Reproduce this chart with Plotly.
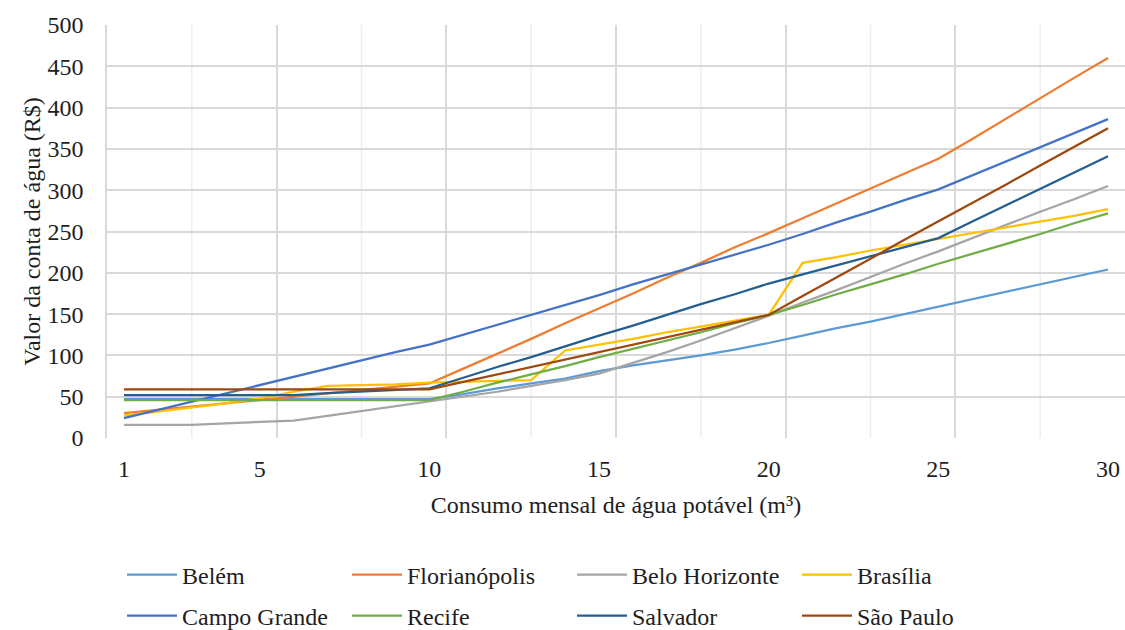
import plotly.graph_objects as go

# Monthly consumption (m³) and the water bill (R$) per city
consumo = list(range(1, 31))

belem = [47, 47, 47, 47, 47, 47, 47, 47, 47, 47,
         53, 60, 66, 72, 81, 88, 94, 100, 107, 115,
         124, 133, 141, 150, 159, 168, 177, 186, 195, 204]
florianopolis = [30, 34, 38, 42, 46, 50, 54, 58, 62, 66,
                 84, 102, 120, 139, 157, 175, 194, 212, 231, 248,
                 266, 284, 302, 320, 338, 362, 387, 411, 436, 460]
belo_horizonte = [16, 16, 16, 17.7, 19.4, 21, 26.8, 32.5, 38.3, 44,
                  50, 56, 63, 70, 78, 91, 104, 118, 133, 148,
                  164, 179, 195, 211, 226, 242, 258, 274, 289, 305]
brasilia = [27, 32, 37, 42, 48, 56, 63, 64, 65, 67,
            68, 69, 70, 106, 113, 120, 128, 135, 142, 149,
            212, 219, 227, 234, 241, 248, 255, 262, 269, 277]
campo_grande = [24, 34, 44, 54, 64, 74, 84, 94, 104, 113,
                125, 137, 149, 161, 173, 186, 198, 210, 222, 234,
                247, 261, 274, 288, 301, 318, 335, 352, 369, 386]
recife = [46, 46, 46, 46, 46, 46, 46, 46, 46, 46,
          56, 67, 77, 87, 98, 108, 118, 128, 139, 149,
          161, 174, 186, 198, 211, 223, 235, 247, 260, 272]
salvador = [52, 52, 52, 52, 52, 52, 54.2, 56.4, 58.6, 60,
            73, 86, 98, 111, 124, 136, 149, 162, 174, 187,
            198, 209, 220, 231, 242, 262, 282, 302, 321, 341]
sao_paulo = [59, 59, 59, 59, 59, 59, 59, 59, 59, 59,
             68, 77, 86, 95, 104, 113, 122, 131, 140, 149,
             172, 194, 217, 240, 262, 285, 307, 330, 353, 375]

series = [
    ("Belém", belem, "#5B9BD5", "legend"),
    ("Florianópolis", florianopolis, "#ED7D31", "legend"),
    ("Belo Horizonte", belo_horizonte, "#A5A5A5", "legend"),
    ("Brasília", brasilia, "#FFC000", "legend"),
    ("Campo Grande", campo_grande, "#4472C4", "legend2"),
    ("Recife", recife, "#70AD47", "legend2"),
    ("Salvador", salvador, "#255E91", "legend2"),
    ("São Paulo", sao_paulo, "#9E480E", "legend2"),
]

x_ticks = [1, 5, 10, 15, 20, 25, 30]
y_ticks = list(range(0, 501, 50))
# vertical grid: a darker line every 5 categories, a lighter one halfway
x_grid_major = [0.5, 5.5, 10.5, 15.5, 20.5, 25.5, 30.5]
x_grid_minor = [3, 8, 13, 18, 23, 28]

FONT = "Liberation Serif"
FS = 24
TXT = "#1e1e1e"
GRID = "#d9d9d9"
GRID_LIGHT = "#eeeeee"

fig = go.Figure()
for name, vals, color, leg in series:
    fig.add_trace(go.Scatter(
        x=consumo, y=vals, name=name, mode="lines",
        line=dict(color=color, width=2.25),
        legend=leg,
    ))

# lighter in-between vertical grid lines
for gx in x_grid_minor:
    fig.add_shape(type="line", layer="below",
                  xref="x", yref="paper", x0=gx, x1=gx, y0=0, y1=1,
                  line=dict(color=GRID_LIGHT, width=1.5))

legend_common = dict(
    orientation="h",
    xref="container", yref="container",
    xanchor="left", yanchor="middle",
    entrywidth=160, entrywidthmode="pixels",
    itemwidth=50,
    font=dict(family=FONT, size=FS, color=TXT),
    bgcolor="rgba(0,0,0,0)",
    itemclick=False, itemdoubleclick=False,
)

fig.update_layout(
    width=1125, height=630,
    margin=dict(l=107, r=0, t=25, b=192),
    paper_bgcolor="white", plot_bgcolor="white",
    font=dict(family=FONT, size=FS, color=TXT),
    showlegend=True,
    legend=dict(x=122 / 1125, y=1 - 575 / 630, **legend_common),
    legend2=dict(x=122 / 1125, y=1 - 616 / 630, **legend_common),
    xaxis=dict(
        range=[0.5, 30.5],
        tickmode="array", tickvals=x_ticks, ticktext=[str(v) for v in x_ticks],
        showgrid=False, zeroline=False, showline=False,
        ticks="", ticklabelstandoff=14,
        tickfont=dict(family=FONT, size=FS, color=TXT),
        title=dict(text="Consumo mensal de água potável (m³)", standoff=15,
                   font=dict(family=FONT, size=FS, color=TXT)),
        minor=dict(tickmode="array", tickvals=x_grid_major, showgrid=True,
                   gridcolor=GRID, gridwidth=1.5, ticks=""),
    ),
    yaxis=dict(
        range=[0, 500],
        tickmode="array", tickvals=y_ticks,
        showgrid=True, gridcolor=GRID, gridwidth=1.5,
        zeroline=False,
        showline=True, linecolor=GRID, linewidth=1.5,
        ticks="", ticklabelstandoff=17,
        tickfont=dict(family=FONT, size=FS, color=TXT),
        title=dict(text="Valor da conta de água (R$)", standoff=0,
                   font=dict(family=FONT, size=FS, color=TXT)),
    ),
)

fig.write_html("out.html")
